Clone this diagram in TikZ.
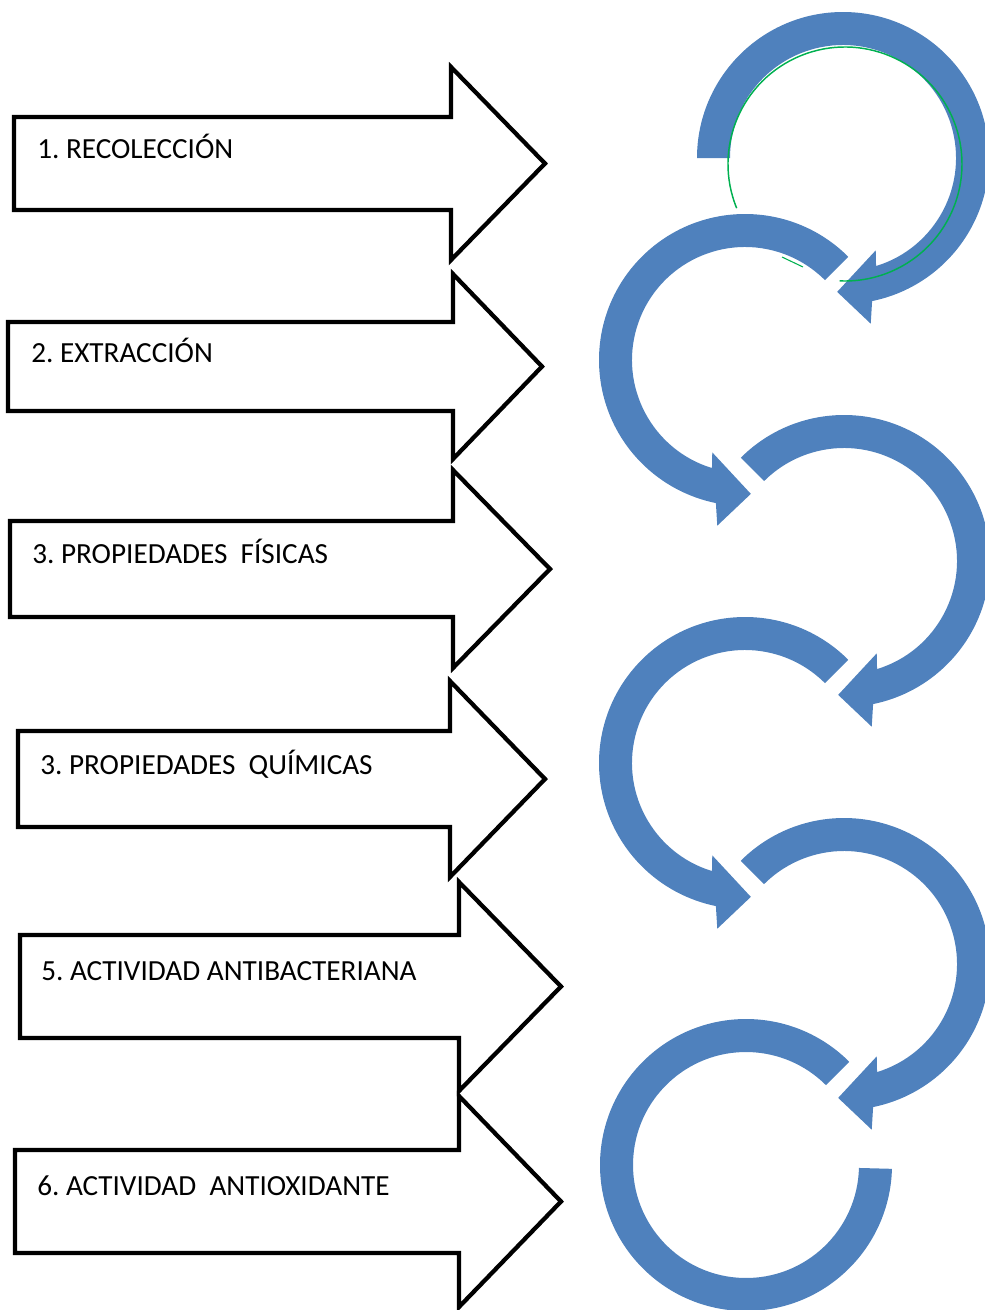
\documentclass[tikz,border=0pt]{standalone}
\usepackage{fontspec}
\setmainfont{Carlito}
\usetikzlibrary{calc}
\definecolor{ringblue}{HTML}{4F81BD}
\definecolor{ringgreen}{HTML}{00B050}
\frenchspacing
\tikzset{
  blockarrow/.style={draw=black, fill=white, line width=3.2pt, line join=miter, miter limit=10},
  lbl/.style={anchor=base west, inner sep=0pt, font=\fontsize{21.9}{26}\selectfont, text=black},
  ringshape/.style={fill=ringblue},
  greenline/.style={draw=ringgreen, line width=1.1pt}
}
% L, T, B, S, HT, HB, TX, TY
\newcommand{\blockarr}[8]{%
  \draw[blockarrow] (#1,#2) -- (#4,#2) -- (#4,#5) -- (#7,#8) -- (#4,#6) -- (#4,#3) -- (#1,#3) -- cycle;}
\newcommand{\leftring}[1]{%
  \fill[ringshape] ($(#1)+(45:109.5pt)$) arc[start angle=45,end angle=258.5,radius=109.5pt]
    -- ($(#1)+(260.5:126pt)$) -- ($(#1)+(272.5:100.5pt)$) -- ($(#1)+(250.5:73.5pt)$)
    -- ($(#1)+(253:84.75pt)$) arc[start angle=253,end angle=45,radius=84.75pt] -- cycle;}
\newcommand{\rightring}[2]{%
  \fill[ringshape] ($(#1)+(#2:109.5pt)$) arc[start angle=#2,end angle=-78.5,radius=109.5pt]
    -- ($(#1)+(-80.5:126pt)$) -- ($(#1)+(-92.5:100.5pt)$) -- ($(#1)+(-70.5:73.5pt)$)
    -- ($(#1)+(-73:84.75pt)$) arc[start angle=-73,end angle=#2,radius=84.75pt] -- cycle;}
\begin{document}
\begin{tikzpicture}[x=0.75pt,y=-0.75pt]
\useasboundingbox (0,0) rectangle (985,1310);

% block arrows
\blockarr{14}{117}{210}{451}{67}{260}{545}{163.5}
\blockarr{8}{322}{411}{453}{274}{459}{542}{366.5}
\blockarr{10}{521}{617}{453}{470}{668}{550}{569}
\blockarr{18}{731}{827}{450}{681}{877}{545}{779}
\blockarr{20}{935}{1038}{459}{882}{1091}{561}{986.5}
\blockarr{15}{1150}{1253}{459}{1096}{1307}{561}{1201.5}

% labels
\node[lbl] (t1) at (37,158) {1. RECOLECCIÓN};
\node[lbl] (t2) at (31,362) {2. EXTRACCIÓN};
\node[lbl] (t3) at (32,563) {3. PROPIEDADES\ \ FÍSICAS};
\node[lbl] (t4) at (40,774) {3. PROPIEDADES\ \ QUÍMICAS};
\node[lbl] (t5) at (41,980) {5. ACTIVIDAD ANTIBACTERIANA};
\node[lbl] (t6) at (37,1195) {6. ACTIVIDAD\ \ ANTIOXIDANTE};

% ring arrows
\coordinate (c1) at (843,158);
\coordinate (c2) at (745,360);
\coordinate (c3) at (844,561);
\coordinate (c4) at (745,763);
\coordinate (c5) at (844,964);
\coordinate (c6) at (746,1165);
\coordinate (g1) at (845,164);

\rightring{c1}{180}
\leftring{c2}
\rightring{c3}{135}
\leftring{c4}
\rightring{c5}{135}
\fill[ringshape] ($(c6)+(45:109.5pt)$) arc[start angle=45,end angle=358.5,radius=109.5pt]
  -- ($(c6)+(358.5:84.75pt)$) arc[start angle=358.5,end angle=45,radius=84.75pt] -- cycle;

% green trace
\draw[greenline] ($(g1)+(202.2:87.75pt)$) arc[start angle=202.2,end angle=-92.6,radius=87.75pt];
\coordinate (ga) at (782,257);
\coordinate (gb) at (803,267);
\draw[greenline, line width=0.8pt] (ga) -- (gb);
\end{tikzpicture}
\end{document}
